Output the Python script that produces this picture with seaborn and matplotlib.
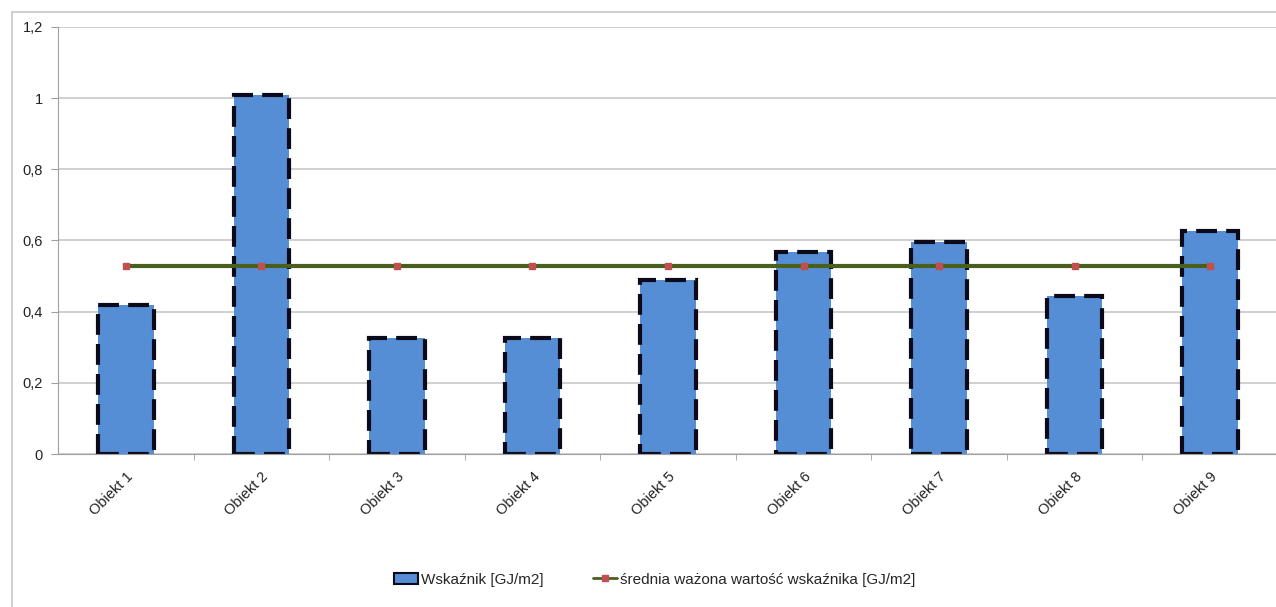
import matplotlib
matplotlib.use("Agg")
import matplotlib.pyplot as plt
import numpy as np
import pandas as pd
import seaborn as sns
from matplotlib.patches import Rectangle, Patch
from matplotlib.lines import Line2D
from matplotlib.ticker import FuncFormatter

categories = ["Obiekt 1", "Obiekt 2", "Obiekt 3", "Obiekt 4", "Obiekt 5",
              "Obiekt 6", "Obiekt 7", "Obiekt 8", "Obiekt 9"]
wskaznik = [0.42, 1.01, 0.325, 0.325, 0.49, 0.567, 0.595, 0.443, 0.628]
srednia = [0.527] * 9

BAR_LABEL = "Wskaźnik [GJ/m2]"
LINE_LABEL = "średnia ważona wartość wskaźnika [GJ/m2]"

sns.set_style("white")
plt.rcParams["font.family"] = ["Liberation Sans", "DejaVu Sans"]

fig = plt.figure(figsize=(12.76, 6.07), dpi=100)
ax = fig.add_axes([58 / 1276, 153 / 607, 1220 / 1276, 427 / 607])

# outer chart frame (left/top visible, right cropped)
fig.add_artist(Rectangle((12 / 1276, -0.01), 1.2, (607 - 12) / 607 + 0.01,
                         transform=fig.transFigure, fill=False,
                         edgecolor="#d0d0d0", linewidth=1.5))

df = pd.DataFrame({"obiekt": categories, "val": wskaznik})
sns.barplot(data=df, x="obiekt", y="val", color="#558ed5", saturation=1,
            width=0.41, ax=ax, zorder=2)
for bar in ax.patches:
    bar.set_edgecolor("#0a0a1a")
    bar.set_linewidth(3)
    bar.set_linestyle((0, (5, 2.2)))

xpos = np.arange(len(categories))
ax.plot(xpos, srednia, color="#4a5e1e", linewidth=3, zorder=3)
ax.plot(xpos, srednia, linestyle="none", marker="s", markersize=5,
        color="#c0504d", zorder=4)

ax.set_xlim(-0.5, 8.5)
ax.set_ylim(0, 1.2)
ax.set_yticks(np.arange(0, 1.21, 0.2))
ax.yaxis.set_major_formatter(FuncFormatter(
    lambda v, p: ("%g" % round(v, 2)).replace(".", ",")))
ax.grid(axis="y", color="#c8c8c8", linewidth=1.2, zorder=0)
ax.set_axisbelow(True)
ax.set_xlabel("")
ax.set_ylabel("")

for s in ["top", "right"]:
    ax.spines[s].set_visible(False)
ax.spines["left"].set_color("#a0a0a0")
ax.spines["bottom"].set_color("#a0a0a0")
ax.tick_params(axis="y", length=5, color="#a0a0a0", labelsize=10.5,
               labelcolor="#222222", pad=6, left=True)

ax.set_xticks(xpos)
ax.set_xticklabels(categories, rotation=45, ha="right", rotation_mode="anchor",
                   fontsize=10.5, color="#222222")
ax.tick_params(axis="x", length=0, pad=11)
ax.set_xticks(np.arange(0.5, 8.5, 1), minor=True)
ax.tick_params(axis="x", which="minor", length=4, color="#a0a0a0", bottom=True)

handles = [
    Patch(facecolor="#558ed5", edgecolor="#0a0a1a", linewidth=1.5,
          label=BAR_LABEL),
    Line2D([0], [0], color="#4a5e1e", linewidth=2, marker="s", markersize=4,
           markerfacecolor="#c0504d", markeredgecolor="#c0504d",
           label=LINE_LABEL),
]
fig.legend(handles=handles, loc="center", bbox_to_anchor=(0.513, 0.045),
           ncol=2, frameon=False, fontsize=11, handlelength=1.6,
           handletextpad=0.2, columnspacing=3.2)

fig.savefig("out.png", dpi=100)
